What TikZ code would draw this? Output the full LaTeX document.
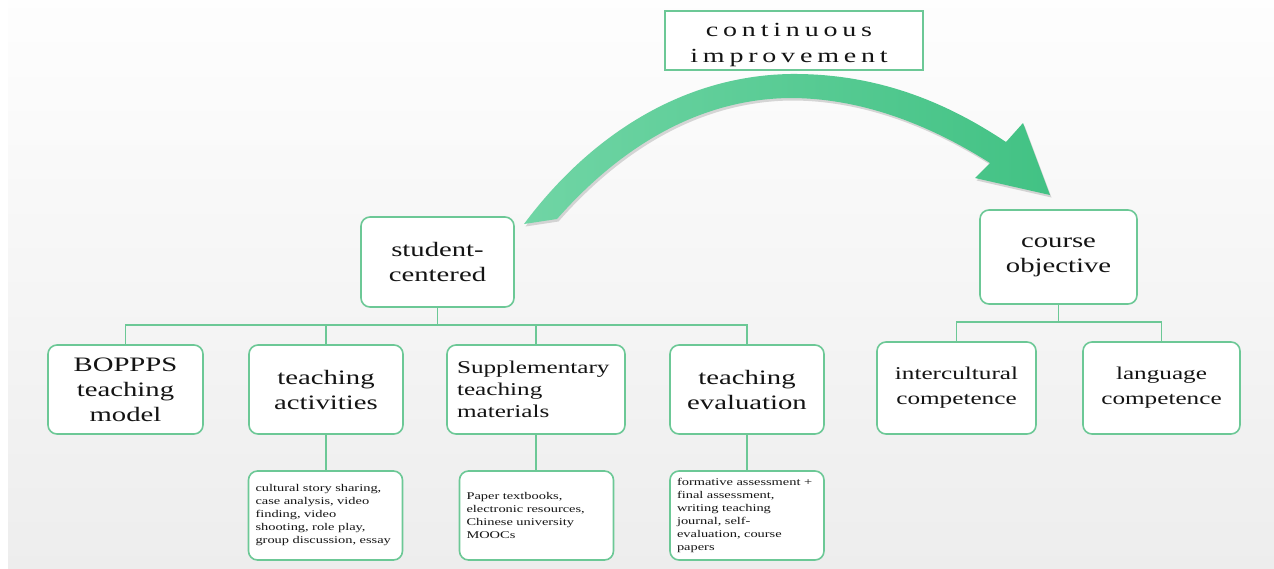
\documentclass[tikz,border=0pt]{standalone}
\usepackage{fontspec}
\setmainfont{Liberation Serif}
\newfontfamily\boxfont[FakeStretch=1.4]{Liberation Serif}
\newfontfamily\spacedfont[FakeStretch=1.4,LetterSpace=24]{Liberation Serif}
\usetikzlibrary{shadows}

\definecolor{boxgreen}{RGB}{108,200,150}
\definecolor{arrowlight}{RGB}{112,213,165}
\definecolor{arrowdark}{RGB}{66,194,132}
\definecolor{textgray}{RGB}{20,20,20}

\tikzset{
  rbox/.style={draw=boxgreen, line width=1.6pt, rounded corners=9pt, fill=white,
               inner sep=0pt, align=center, text=textgray},
  bigtext/.style={font=\boxfont\fontsize{20.5}{25}\selectfont},
  midtext/.style={font=\boxfont\fontsize{18}{22}\selectfont},
  sidetext/.style={font=\boxfont\fontsize{18}{25}\selectfont},
  smalltext/.style={font=\boxfont\fontsize{10.3}{13}\selectfont},
  link/.style={draw=boxgreen, line width=1.6pt}
}

\begin{document}
\begin{tikzpicture}[x=1pt,y=-1pt]
  \useasboundingbox (0,0) rectangle (1274,568);

  %background
  \fill[white] (0,0) rectangle (1274,568);
  \shade[top color=gray!1, bottom color=gray!14] (8,0) rectangle (1274,568);

  %big arrow
  \path[left color=arrowlight, right color=arrowdark,
        drop shadow={opacity=0.3, shadow xshift=1.5pt, shadow yshift=-2.5pt}]
    (524,224) .. controls (588,138) and (680,76) .. (790,74)
              .. controls (882,73) and (952,106) .. (1006,142)
    -- (1023,123) -- (1050,195) -- (975,178) -- (990,163)
              .. controls (938,130) and (868,98) .. (790,98)
              .. controls (694,99) and (616,152) .. (557,219) -- cycle;

  \node[draw=boxgreen, line width=1.4pt, fill=white, text=textgray,
        inner sep=0pt, minimum width=258pt, minimum height=59pt,
        font=\spacedfont\fontsize{20}{26}\selectfont] (ci) at (794,40.5)
    {\raisebox{-8.5pt}[0pt][0pt]{\kern-10pt\begin{tabular}{@{}c@{}}continuous\\improvement\end{tabular}}};

  %top boxes
  \node[rbox, bigtext, minimum width=153pt, minimum height=90pt] (sc) at (437.5,262) {student-\\centered};
  \node[rbox, bigtext, minimum width=157pt, minimum height=94pt] (co) at (1058.5,257) {course\\objective};

  %second row
  \foreach \x/\w/\name/\txt in {125.5/155/bop/{BOPPPS\\teaching\\model},326/154/act/{teaching\\activities},747/154/eva/{teaching\\evaluation}}{
    \node[rbox, bigtext, minimum width=\w pt, minimum height=89pt] (\name) at (\x,389.5) {\txt};
  }
  \node[rbox, midtext, align=left, text width=158pt, minimum width=178pt, minimum height=89pt] (sup) at (536,389.5)
    {Supplementary\\teaching\\materials};

  \foreach \x/\w/\name/\txt in {956.5/159/inter/{intercultural\\competence},1161.5/157/lang/{language\\competence}}{
    \node[rbox, sidetext, minimum width=\w pt, minimum height=92pt] (\name) at (\x,388) {\txt};
  }

  %third row
  \foreach \x/\name/\txt in {325.5/actd/{cultural story sharing,\\case analysis, video\\finding, video\\shooting, role play,\\group discussion, essay},
                             536.5/supd/{Paper textbooks,\\electronic resources,\\Chinese university\\MOOCs},
                             747/evad/{formative assessment +\\final assessment,\\writing teaching\\journal, self-\\evaluation, course\\papers}}{
    \node[rbox, smalltext, align=left, text width=140pt, minimum width=154pt, minimum height=89pt] (\name) at (\x,515.5) {\txt};
  }

  %connectors
  \coordinate (busL) at (437,325);
  \coordinate (busR) at (1058,322);
  \draw[link] (sc.south) -- (sc.south |- busL);
  \draw[link] (bop.north) |- (busL) -| (eva.north);
  \draw[link] (act.north) -- (act.north |- busL);
  \draw[link] (sup.north) -- (sup.north |- busL);
  \draw[link] (co.south) -- (co.south |- busR);
  \draw[link] (inter.north) |- (busR) -| (lang.north);
  \draw[link] (act.south) -- (act.south |- actd.north);
  \draw[link] (sup.south) -- (sup.south |- supd.north);
  \draw[link] (eva.south) -- (eva.south |- evad.north);
\end{tikzpicture}
\end{document}
